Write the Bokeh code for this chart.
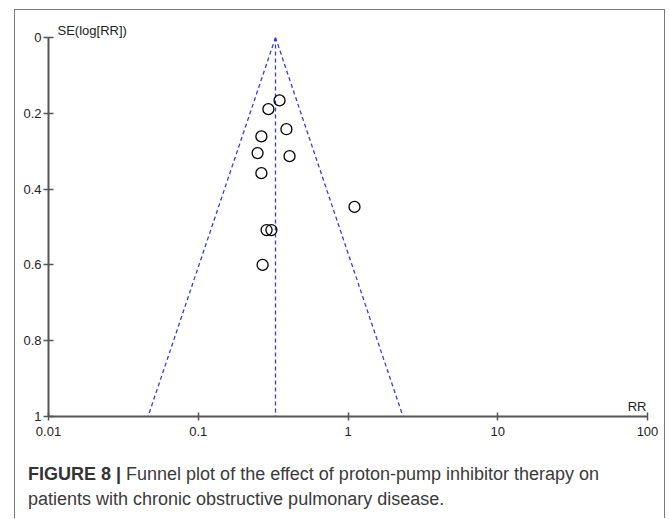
import numpy as np
from bokeh.plotting import figure
from bokeh.models import Range1d, FixedTicker, Label, Div, ColumnDataSource, Spacer
from bokeh.layouts import column, row
from bokeh.embed import file_html
from bokeh.resources import INLINE

# ---- data ----
study_rr = [0.349, 0.294, 0.264, 0.388, 0.249, 0.407, 0.264, 1.105, 0.286, 0.308, 0.269]
study_se = [0.166, 0.189, 0.261, 0.242, 0.305, 0.313, 0.358, 0.447, 0.508, 0.508, 0.600]
pooled_rr = 0.328
se_max = 1.0
x_ticks = [0.01, 0.1, 1, 10, 100]
x_tick_labels = ["0.01", "0.1", "1", "10", "100"]
y_ticks = [0, 0.2, 0.4, 0.6, 0.8, 1.0]
y_tick_labels = ["0", "0.2", "0.4", "0.6", "0.8", "1"]
caption_bold = "FIGURE 8 |"
caption_line1 = " Funnel plot of the effect of proton-pump inhibitor therapy on"
caption_line2 = "patients with chronic obstructive pulmonary disease."

FONT = "Liberation Sans"
AXIS_COL = "#555555"
FUNNEL_COL = "#3a3ae0"
BORDER = "1px solid #7a7a7a"

p = figure(width=649, height=452, x_axis_type="log",
           x_range=Range1d(x_ticks[0], x_ticks[-1]), y_range=Range1d(se_max, 0),
           output_backend="svg", toolbar_location=None,
           min_border_left=33, min_border_right=17, min_border_top=27, min_border_bottom=46)
p.outline_line_color = None
p.grid.visible = False
p.background_fill_color = "white"
p.border_fill_color = "white"

p.title.text = "SE(log[RR])"
p.title.align = "left"
p.title.offset = 9
p.title.standoff = 0
p.title.text_font = FONT
p.title.text_font_size = "13px"
p.title.text_font_style = "normal"
p.title.text_color = "#222222"

# funnel (pseudo 95% limits around the pooled estimate)
z = 1.96
p.line([pooled_rr, pooled_rr], [0, se_max], line_color=FUNNEL_COL, line_dash="4 3", line_width=1.3)
p.line([pooled_rr, pooled_rr * np.exp(-z * se_max)], [0, se_max], line_color=FUNNEL_COL, line_dash="4 3", line_width=1.3)
p.line([pooled_rr, pooled_rr * np.exp(z * se_max)], [0, se_max], line_color=FUNNEL_COL, line_dash="4 3", line_width=1.3)

src = ColumnDataSource(dict(rr=study_rr, se=study_se))
p.scatter("rr", "se", source=src, size=11, marker="circle", fill_color=None,
          line_color="black", line_width=1.3)

for ax in (p.xaxis[0], p.yaxis[0]):
    ax.axis_line_color = AXIS_COL
    ax.axis_line_width = 2
    ax.major_tick_line_color = AXIS_COL
    ax.major_tick_line_width = 1.5
    ax.minor_tick_line_color = None
    ax.major_label_text_font = FONT
    ax.major_label_text_font_size = "13px"
    ax.major_label_text_color = "#222222"

p.xaxis.ticker = FixedTicker(ticks=x_ticks)
p.xaxis.major_label_overrides = {t: l for t, l in zip(x_ticks, x_tick_labels)}
p.xaxis.major_tick_in = 4
p.xaxis.major_tick_out = 4
p.xaxis.major_label_standoff = 6

p.yaxis.ticker = FixedTicker(ticks=y_ticks)
p.yaxis.major_label_overrides = {t: l for t, l in zip(y_ticks, y_tick_labels)}
p.yaxis.major_tick_in = 5
p.yaxis.major_tick_out = 5
p.yaxis.major_label_standoff = 2

p.add_layout(Label(x=x_ticks[-1], y=se_max, x_offset=-1, y_offset=3, text="RR",
                   text_font=FONT, text_font_size="13px", text_color="#222222",
                   text_align="right", text_baseline="bottom"))

caption = Div(
    text=('<div style="font-family: \'Liberation Sans\', sans-serif; font-size:18px; '
          'color:#3a3a3a; line-height:25px; padding-left:13px; margin:0; white-space:nowrap;">'
          f'<span style="font-weight:bold; color:#333">{caption_bold}</span>'
          f'<span>{caption_line1}</span><br>'
          f'<span>{caption_line2}</span></div>'),
    width=649, height=56, margin=0)

boxed = column(p, caption, styles={"border-top": BORDER, "border-left": BORDER,
                                   "border-right": BORDER, "background": "white"})
layout = row(Spacer(width=14), column(Spacer(height=9), boxed))

open("out.html", "w").write(file_html(layout, INLINE))
